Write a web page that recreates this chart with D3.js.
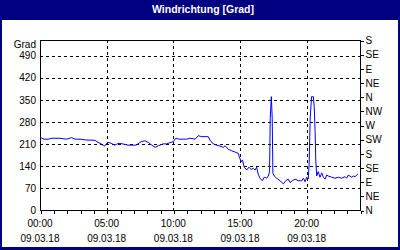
<!DOCTYPE html>
<html><head><meta charset="utf-8">
<script src="https://cdn.jsdelivr.net/npm/d3@7"></script>
<style>
html,body{margin:0;padding:0;background:#fff;}
svg{display:block;}
text{font-family:"Liberation Sans",Arial,sans-serif;}
</style></head>
<body>
<svg id="c" width="400" height="250"></svg>
<script>
const title = "Windrichtung [Grad]";
const unitLabel = "Grad";
const dateLabel = "09.03.18";
const leftTicks = [0, 70, 140, 210, 280, 350, 420, 490];
const rightTickLabels = ["N","NE","E","SE","S","SW","W","NW","N","NE","E","SE","S"];
const hourLabels = ["00:00","05:00","10:00","15:00","20:00"];
const labelHours = [0, 5, 10, 15, 20];
// measurement times (minutes since midnight) and wind direction (degrees)
const minutes = [0,18,36,54,72,90,108,121,141,158,180,198,216,234,248,261,275,284,291,299,306,320,336,351,365,378,396,414,432,441,455,471,
487,503,518,532,554,570,585,600,611,626,644,660,675,698,712,728,743,757,765,780,795,810,825,833,847,863,878,892,897,905,911,919,930,940,950,960,968,975,982,990,1000,1009,1020,1027,1033,1036,1041,1045,1048,1054,1065,1080,1095,1106,1117,1125,1135,1148,1162,1178,1185,1193,1200,1207,1211,1216,1222,1230,1234,1238,1241,1245,1252,1260,1268,1275,1283,1290,1297,1313,1328,1342,1358,1373,1380,1387,1403,1410,1418,1430];
const degrees = [231,225,225,228,228,228,226,225,230,225,225,223,222,222,221,215,210,206,203,211,215,212,206,211,211,209,206,206,206,210,217,220,
215,206,199,204,210,210,214,217,228,225,225,225,228,225,236,233,233,233,222,210,206,203,199,204,193,188,184,180,169,153,159,136,127,136,129,132,127,136,114,101,93,104,101,108,121,291,360,291,117,108,101,93,83,93,98,87,93,98,93,93,101,90,104,98,143,295,360,360,328,249,159,108,122,104,118,104,98,111,108,104,101,104,101,106,101,111,104,108,106,114];

const W = 400, H = 250;
const L = 40, R = 360, T = 40, B = 210;
const svg = d3.select("#c");
const navy = "#000080";

svg.append("rect").attr("x",0).attr("y",0).attr("width",W).attr("height",H).attr("fill",navy);
svg.append("rect").attr("x",2).attr("y",20).attr("width",W-4).attr("height",H-23).attr("fill","#fff");
svg.append("text").attr("x",203).attr("y",12.5).attr("text-anchor","middle")
  .attr("fill","#fff").attr("font-weight","bold").attr("font-size","10.5px").text(title);

const x = d3.scaleLinear().domain([0, 24*60]).range([L, R]);
const y = d3.scaleLinear().domain([0, 540]).range([B, T]);

// grid
const g = svg.append("g").attr("shape-rendering","crispEdges");
leftTicks.filter(v => v > 0).forEach(v => {
  g.append("line").attr("x1",L).attr("x2",R).attr("y1",Math.round(y(v))+0.5).attr("y2",Math.round(y(v))+0.5)
   .attr("stroke","#000").attr("stroke-dasharray","3,3");
});
labelHours.filter(h => h > 0).forEach(h => {
  g.append("line").attr("y1",T).attr("y2",B).attr("x1",Math.round(x(h*60))+0.5).attr("x2",Math.round(x(h*60))+0.5)
   .attr("stroke","#000").attr("stroke-dasharray","3,3");
});
// frame
g.append("rect").attr("x",L+0.5).attr("y",T+0.5).attr("width",R-L).attr("height",B-T)
  .attr("fill","none").attr("stroke","#000");

// x axis
const xAxis = d3.axisBottom(x).tickValues(d3.range(0, 25).map(h => h*60)).tickSize(3).tickFormat("");
const xg = svg.append("g").attr("transform",`translate(0.5,${B+0.5})`).call(xAxis);
xg.select(".domain").remove();
xg.selectAll("line").attr("stroke","#000").attr("shape-rendering","crispEdges");
labelHours.forEach((h,i) => {
  svg.append("text").attr("x",x(h*60)).attr("y",227).attr("text-anchor","middle").attr("font-size","10px").attr("fill","#000").text(hourLabels[i]);
  svg.append("text").attr("x",x(h*60)).attr("y",242).attr("text-anchor","middle").attr("font-size","10px").attr("fill","#000").text(dateLabel);
});

// left axis
const yAxis = d3.axisLeft(y).tickValues(leftTicks).tickSize(0).tickPadding(4);
const yg = svg.append("g").attr("transform",`translate(${L},0)`).call(yAxis);
yg.select(".domain").remove();
yg.selectAll("text").attr("font-size","10px").attr("fill","#000").attr("font-family","Liberation Sans, Arial, sans-serif");
svg.append("text").attr("x",36).attr("y",48).attr("text-anchor","end").attr("font-size","10px").text(unitLabel);

// right axis
const yR = d3.scaleLinear().domain([0, 12]).range([B, T]);
const rAxis = d3.axisRight(yR).tickValues(d3.range(13)).tickSize(3).tickPadding(2).tickFormat(i => rightTickLabels[i]);
const rg = svg.append("g").attr("transform",`translate(${R+0.5},0.5)`).call(rAxis);
rg.select(".domain").remove();
rg.selectAll("line").attr("stroke","#000").attr("shape-rendering","crispEdges");
rg.selectAll("text").attr("font-size","10px").attr("fill","#000").attr("font-family","Liberation Sans, Arial, sans-serif");

// line
const data = minutes.map((m,i) => [m, degrees[i]]);
svg.append("path").datum(data).attr("fill","none").attr("stroke","#0000ff").attr("stroke-width",1)
  .attr("d", d3.line().x(d => x(d[0])).y(d => y(d[1])));
</script>
</body></html>
